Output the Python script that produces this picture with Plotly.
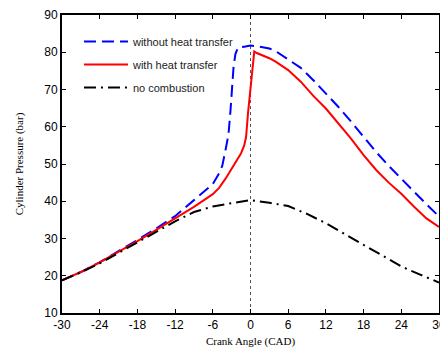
import plotly.graph_objects as go

# Without heat transfer
x_no_ht = [-30, -27, -24, -21, -18, -15, -12, -9, -7, -6, -5, -4.5, -4, -3.5, -3.2, -3, -2.7, -2.4, -2, -1, 0, 1, 2, 3, 4, 6, 8, 10, 12, 14, 16, 18, 20, 22, 24, 26, 28, 30]
p_no_ht = [18.8, 21.0, 23.6, 26.5, 29.6, 32.7, 36.0, 40.3, 43.2, 44.6, 47.5, 49.5, 53.5, 58.0, 64.0, 70.0, 76.0, 79.5, 81.2, 81.5, 81.8, 81.6, 81.4, 81.0, 80.3, 78.0, 75.8, 72.5, 69.0, 65.3, 61.4, 57.3, 53.2, 49.5, 46.0, 42.7, 39.2, 35.9]

# With heat transfer
x_ht = [-30, -27, -24, -21, -18, -15, -12, -9, -6, -5, -4, -3, -2, -1.5, -1, -0.7, -0.4, -0.2, 0, 0.3, 0.6, 1, 2, 3, 4, 6, 8, 10, 12, 14, 16, 18, 20, 22, 24, 26, 28, 30]
p_ht = [18.8, 21.0, 23.6, 26.4, 29.3, 32.3, 35.4, 38.5, 41.9, 43.6, 46.0, 48.8, 51.5, 52.9, 55.0, 57.3, 63.6, 67.0, 70.8, 76.0, 80.2, 79.8, 79.2, 78.4, 77.5, 75.2, 72.1, 68.3, 64.9, 61.0, 56.8, 52.4, 48.4, 45.0, 42.0, 38.6, 35.4, 33.1]

# No combustion
x_motor = [-30, -27, -24, -21, -18, -15, -12, -9, -6, -3, 0, 3, 6, 9, 12, 15, 18, 21, 24, 27, 30]
p_motor = [18.8, 20.9, 23.3, 26.1, 29.1, 31.9, 34.6, 37.1, 38.6, 39.5, 40.3, 39.6, 38.7, 36.6, 34.1, 31.2, 28.3, 25.3, 22.5, 20.3, 18.2]

x_ticks = [-30, -24, -18, -12, -6, 0, 6, 12, 18, 24, 30]
y_ticks = [10, 20, 30, 40, 50, 60, 70, 80, 90]

fig = go.Figure()
fig.add_trace(go.Scatter(x=x_no_ht, y=p_no_ht, mode="lines", name="without heat transfer",
                         legendgroup="a", line=dict(color="#0000ff", width=2, dash="12px,6px")))
fig.add_trace(go.Scatter(x=x_ht, y=p_ht, mode="lines", name="with heat transfer",
                         legendgroup="b", line=dict(color="#ff0000", width=2)))
fig.add_trace(go.Scatter(x=x_motor, y=p_motor, mode="lines", name="no combustion",
                         legendgroup="c", line=dict(color="#000000", width=2, dash="12px,5px,2px,5px")))

fig.add_shape(type="line", xref="x", yref="paper", x0=0, x1=0, y0=0, y1=1,
              line=dict(color="#555555", width=1, dash="dot"), layer="below")

axis_font = dict(family="Liberation Sans, Arial", size=12, color="#000000")
fig.update_layout(
    width=440, height=348,
    margin=dict(l=62, r=1, t=15, b=35),
    paper_bgcolor="white", plot_bgcolor="white",
    showlegend=True,
    legend=dict(x=0.045, y=0.96, xanchor="left", yanchor="top",
                bgcolor="rgba(0,0,0,0)", font=dict(family="Liberation Sans, Arial", size=11, color="#222222"),
                tracegroupgap=4, traceorder="grouped", itemwidth=44),
    xaxis=dict(range=[-30, 30], tickvals=x_ticks, ticktext=[str(v) for v in x_ticks],
               showgrid=False, zeroline=False, showline=True, linecolor="black", linewidth=2,
               mirror="ticks", ticks="inside", ticklen=4, tickcolor="black",
               tickfont=axis_font, ticklabeloverflow="allow", automargin=False,
               title=dict(text="Crank Angle (CAD)", font=dict(family="Liberation Serif, Times New Roman", size=11, color="#000000"), standoff=6)),
    yaxis=dict(range=[10, 90], tickvals=y_ticks, ticktext=[str(v) for v in y_ticks],
               showgrid=False, zeroline=False, showline=True, linecolor="black", linewidth=2,
               mirror="ticks", ticks="inside", ticklen=4, tickcolor="black",
               tickfont=axis_font, automargin=False,
               title=dict(text="Cylinder Pressure (bar)", font=dict(family="Liberation Serif, Times New Roman", size=11, color="#000000"), standoff=18)),
)

fig.write_html("out.html")
